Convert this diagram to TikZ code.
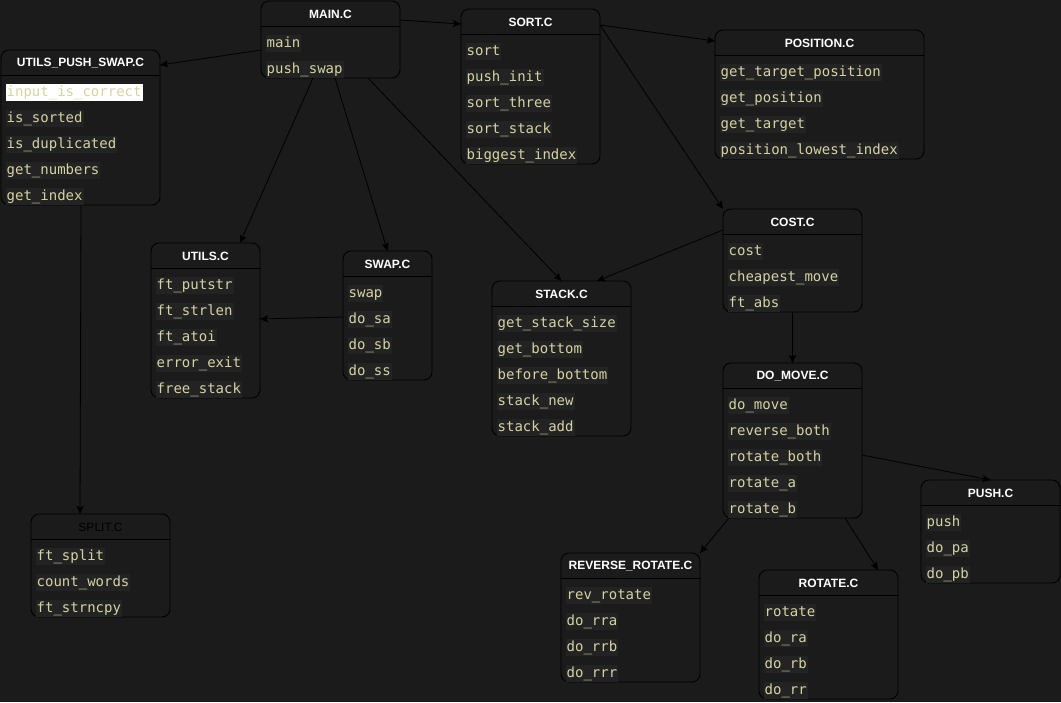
\documentclass[tikz,border=0pt]{standalone}
\usepackage{fontspec}
\setmainfont{Liberation Sans}
\setmonofont{DejaVu Sans Mono}
\usepackage{tikz}
\usetikzlibrary{%
  calc,
  arrows.meta,
  positioning
}
\definecolor{fond}{HTML}{1B1B1B}
\definecolor{fondfonction}{HTML}{232323}
\definecolor{textefonction}{HTML}{D6D3A3}

\tikzset{
  boite/.style={draw=black, line width=0.9pt, fill=fond, rounded corners=8pt,
                inner sep=0pt, outer sep=0pt},
  titre/.style={text=white, font=\fontsize{12}{14}\selectfont\bfseries,
                inner sep=0pt},
  fonction/.style={anchor=west, fill=fondfonction, text=textefonction,
                   font=\fontsize{14}{16}\selectfont\ttfamily,
                   inner sep=1pt, text height=11pt, text depth=4pt},
  separateur/.style={draw=black, line width=0.9pt},
  lien/.style={draw=black, line width=0.8pt,
               -{Stealth[length=8pt, width=7pt, inset=1.5pt]}},
  % cas particuliers
  ups-0/.style={fill=white},
  split-titre/.style={text=black, font=\fontsize{12}{14}\selectfont},
}

% #1 nom, #2 coin haut gauche, #3 largeur, #4 nombre de fonctions,
% #5 titre, #6 fonctions
\newcommand{\fichier}[6]{%
  \pgfmathsetmacro{\hauteur}{25+26*#4}
  \node [boite, minimum width=#3pt, minimum height=\hauteur pt,
         anchor=north west] (#1) at #2 {} ;
  \node [titre, #1-titre/.try] (#1-titre)
        at ([yshift=-13pt]#1.north) {#5} ;
  \draw [separateur]
        ([yshift=-25pt]#1.north west) -- ([yshift=-25pt]#1.north east) ;
  \foreach \f [count=\i from 0] in {#6} {
    \node [fonction, #1-\i/.try] (#1-\i)
          at ([xshift=4.5pt, yshift=-42.5pt-26pt*\i]#1.north west) {\f} ;
  }
}

\begin{document}
\begin{tikzpicture}[
  x=1pt,
  y=-1pt,
]
  \useasboundingbox (0,0) rectangle (1061,702) ;
  \fill [fond] (0,0) rectangle (1061,702) ;

  % les fichiers
  \fichier{main}{(261,1)}{139}{2}{MAIN.C}%
    {main, push\_swap}
  \fichier{ups}{(1,50)}{159}{5}{UTILS\_PUSH\_SWAP.C}%
    {input\_is\_correct, is\_sorted, is\_duplicated, get\_numbers, get\_index}
  \fichier{sort}{(461,9)}{139}{5}{SORT.C}%
    {sort, push\_init, sort\_three, sort\_stack, biggest\_index}
  \fichier{position}{(715,30)}{209}{4}{POSITION.C}%
    {get\_target\_position, get\_position, get\_target, position\_lowest\_index}
  \fichier{cost}{(723,209)}{139}{3}{COST.C}%
    {cost, cheapest\_move, ft\_abs}
  \fichier{utils}{(151,243)}{109}{5}{UTILS.C}%
    {ft\_putstr, ft\_strlen, ft\_atoi, error\_exit, free\_stack}
  \fichier{swap}{(343,251)}{89}{4}{SWAP.C}%
    {swap, do\_sa, do\_sb, do\_ss}
  \fichier{stack}{(492,281)}{139}{5}{STACK.C}%
    {get\_stack\_size, get\_bottom, before\_bottom, stack\_new, stack\_add}
  \fichier{domove}{(723,363)}{139}{5}{DO\_MOVE.C}%
    {do\_move, reverse\_both, rotate\_both, rotate\_a, rotate\_b}
  \fichier{push}{(921,480)}{139}{3}{PUSH.C}%
    {push, do\_pa, do\_pb}
  \fichier{split}{(31,514)}{139}{3}{SPLIT.C}%
    {ft\_split, count\_words, ft\_strncpy}
  \fichier{revrot}{(561,553)}{139}{4}{REVERSE\_ROTATE.C}%
    {rev\_rotate, do\_rra, do\_rrb, do\_rrr}
  \fichier{rotate}{(759,570)}{139}{4}{ROTATE.C}%
    {rotate, do\_ra, do\_rb, do\_rr}

  % les appels
  \draw [lien] ([yshift=-10.5pt]main.west) -- ([yshift=-15pt]ups.north east) ;
  \draw [lien] ([yshift=-19pt]main.north east) -- ([yshift=-15pt]sort.north west) ;
  \draw [lien] ([xshift=52pt]main.south west) -- ([xshift=89pt]utils.north west) ;
  \draw [lien] ([xshift=74pt]main.south west) -- (swap.north) ;
  \draw [lien] ([xshift=107pt]main.south west) -- (stack.north) ;
  \draw [lien] ([yshift=-16pt]sort.north east) -- ([yshift=-11pt]position.north west) ;
  \draw [lien] ([yshift=-16pt]sort.north east) -- (cost.north west) ;
  \draw [lien] ([yshift=-21pt]cost.north west) -- ([xshift=105pt]stack.north west) ;
  \draw [lien] ([yshift=-66pt]swap.north west) -- ([yshift=-76pt]utils.north east) ;
  \draw [lien] ([xshift=80pt]ups.south west) -- ([xshift=49pt]split.north west) ;
  \draw [lien] (cost.south) -- (domove.north) ;
  \draw [lien] ([yshift=-92pt]domove.north east) -- (push.north) ;
  \draw [lien] ([xshift=6pt]domove.south west) -- (revrot.north east) ;
  \draw [lien] ([xshift=-17pt]domove.south east) -- ([xshift=-20pt]rotate.north east) ;

\end{tikzpicture}
\end{document}
